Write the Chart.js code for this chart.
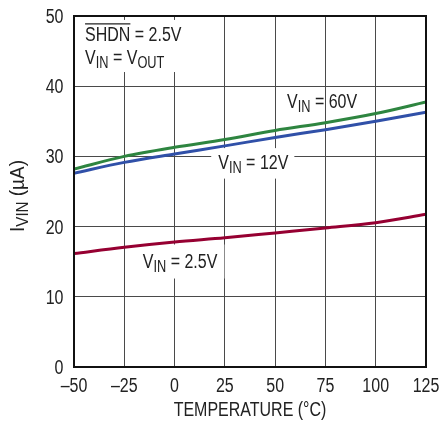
<!DOCTYPE html>
<html>
<head>
<meta charset="utf-8">
<script src="https://cdn.jsdelivr.net/npm/chart.js@4/dist/chart.umd.min.js"></script>
<style>
  html, body { margin: 0; padding: 0; background: #fff; }
  canvas { display: block; }
</style>
</head>
<body>
<canvas id="chart" width="441" height="421"></canvas>
<script>
// Supply current vs. temperature for three input voltages
const temperatures = [-50, -25, 0, 25, 50, 75, 100, 125];
const iVin60V  = [28.2, 30.0, 31.3, 32.4, 33.7, 34.8, 36.1, 37.75];
const iVin12V  = [27.6, 29.15, 30.35, 31.5, 32.7, 33.8, 35.0, 36.3];
const iVin2p5V = [16.15, 17.05, 17.8, 18.4, 19.1, 19.8, 20.55, 21.75];

const xTickLabels = ['–50', '–25', '0', '25', '50', '75', '100', '125'];
const yTickLabels = ['0', '10', '20', '30', '40', '50'];

const TEXT_FONT = '"Liberation Sans", Arial, sans-serif';
const TEXT_SIZE = 19.5;
const TEXT_SX = 0.82;      // condensed look
const TEXT_COLOR = '#222';

// Rich-text pieces: {t, sub, over}
function fontFor(p, size) {
  return (p.sub ? size * 0.8 : size) + 'px ' + TEXT_FONT;
}
function partsWidth(ctx, parts, size = TEXT_SIZE, sx = TEXT_SX) {
  let w = 0;
  for (const p of parts) { ctx.font = fontFor(p, size); w += ctx.measureText(p.t).width; }
  return w * sx;
}
function drawParts(ctx, parts, x, y, rot = 0, size = TEXT_SIZE, sx = TEXT_SX) {
  ctx.save();
  ctx.translate(x, y);
  if (rot) ctx.rotate(rot);
  ctx.scale(sx, 1);
  ctx.fillStyle = TEXT_COLOR;
  ctx.strokeStyle = TEXT_COLOR;
  ctx.textBaseline = 'alphabetic';
  ctx.textAlign = 'left';
  let cx = 0;
  for (const p of parts) {
    ctx.font = fontFor(p, size);
    const w = ctx.measureText(p.t).width;
    ctx.fillText(p.t, cx, p.sub ? 4 : 0);
    if (p.over) {
      ctx.lineWidth = 1.3;
      ctx.beginPath();
      ctx.moveTo(cx, -17);
      ctx.lineTo(cx + w, -17);
      ctx.stroke();
    }
    cx += w;
  }
  ctx.restore();
}

// Labels placed in data coordinates; each block gets a white backing box
const notes = [
  { x: -44.5, y: 46.45, lines: [
      [{ t: 'SHDN', over: true }, { t: ' = 2.5V' }],
      [{ t: 'V' }, { t: 'IN', sub: true }, { t: ' = V' }, { t: 'OUT', sub: true }]
    ], lineGap: 22.6, box: { l: 11, r: 14, t: 21, b: 8.5 } },
  { x: 55.9, y: 36.85, lines: [
      [{ t: 'V' }, { t: 'IN', sub: true }, { t: ' = 60V' }]
    ], lineGap: 0, box: null },
  { x: 21.7, y: 28.26, lines: [
      [{ t: 'V' }, { t: 'IN', sub: true }, { t: ' = 12V' }]
    ], lineGap: 0, box: { l: 7, r: 6, t: 20.5, b: 10 } },
  { x: -15.8, y: 14.1, lines: [
      [{ t: 'V' }, { t: 'IN', sub: true }, { t: ' = 2.5V' }]
    ], lineGap: 0, box: { l: 7, r: 7, t: 23.5, b: 10.5 } }
];

const annotationPlugin = {
  id: 'annotations',
  beforeDatasetsDraw(chart) {
    const { ctx, scales: { x, y } } = chart;
    ctx.save();
    ctx.fillStyle = '#fff';
    for (const n of notes) {
      if (!n.box) continue;
      const px = x.getPixelForValue(n.x);
      const py = y.getPixelForValue(n.y);
      let w = 0;
      for (const line of n.lines) w = Math.max(w, partsWidth(ctx, line));
      const last = py + n.lineGap * (n.lines.length - 1);
      ctx.fillRect(px - n.box.l, py - n.box.t, w + n.box.l + n.box.r, last - py + n.box.t + n.box.b);
    }
    ctx.restore();
  },
  afterDatasetsDraw(chart) {
    const { ctx, chartArea: a, scales: { x, y } } = chart;
    for (const n of notes) {
      const px = x.getPixelForValue(n.x);
      const py = y.getPixelForValue(n.y);
      n.lines.forEach((line, i) => drawParts(ctx, line, px, py + i * n.lineGap));
    }
    // frame
    ctx.save();
    ctx.strokeStyle = '#111';
    ctx.lineWidth = 2;
    ctx.strokeRect(a.left, a.top, a.right - a.left, a.bottom - a.top);
    ctx.restore();
    // condensed tick labels taken from the scales' own ticks
    x.ticks.forEach(t => {
      const parts = [{ t: String(t.label) }];
      const w = partsWidth(ctx, parts);
      drawParts(ctx, parts, x.getPixelForValue(t.value) - w / 2, a.bottom + 25);
    });
    y.ticks.forEach(t => {
      const parts = [{ t: String(t.label) }];
      const w = partsWidth(ctx, parts);
      drawParts(ctx, parts, a.left - 10.5 - w, y.getPixelForValue(t.value) + 7);
    });
    // axis titles
    const xt = [{ t: 'TEMPERATURE (°C)' }];
    const xw = partsWidth(ctx, xt);
    drawParts(ctx, xt, (a.left + a.right) / 2 - xw / 2, 416);
    const yt = [{ t: 'I' }, { t: 'VIN', sub: true }, { t: ' (µA)' }];
    const natural = partsWidth(ctx, yt, TEXT_SIZE, 1);
    const ysx = Math.min(1, 72 / natural);
    drawParts(ctx, yt, 24, 232, -Math.PI / 2, TEXT_SIZE, ysx);
  }
};

const pts = vals => temperatures.map((t, i) => ({ x: t, y: vals[i] }));
const lineStyle = color => ({
  borderColor: color, backgroundColor: color, borderWidth: 3,
  pointRadius: 0, fill: false, cubicInterpolationMode: 'monotone'
});

const tickFont = { family: TEXT_FONT, size: 19 };

new Chart(document.getElementById('chart'), {
  type: 'line',
  data: {
    datasets: [
      { label: 'VIN = 2.5V', data: pts(iVin2p5V), ...lineStyle('#960032') },
      { label: 'VIN = 12V', data: pts(iVin12V), ...lineStyle('#3050a8') },
      { label: 'VIN = 60V', data: pts(iVin60V), ...lineStyle('#2e8540') }
    ]
  },
  options: {
    responsive: false,
    animation: false,
    devicePixelRatio: 1,
    layout: { padding: { top: 16, right: 15, left: 0, bottom: 0 } },
    plugins: { legend: { display: false }, tooltip: { enabled: false } },
    scales: {
      x: {
        type: 'linear', min: -50, max: 125,
        afterFit(s) { s.height = 54; s.paddingLeft = 0; s.paddingRight = 0; },
        afterBuildTicks(s) { s.ticks = temperatures.map(v => ({ value: v })); },
        ticks: {
          callback: (v, i) => xTickLabels[i],
          font: tickFont, color: 'rgba(0,0,0,0)', padding: 7, maxRotation: 0, autoSkip: false
        },
        grid: { color: '#4a4a4a', lineWidth: 1, drawTicks: false },
        border: { display: false }
      },
      y: {
        min: 0, max: 50,
        afterFit(s) { s.width = 74; s.paddingTop = 0; s.paddingBottom = 0; },
        afterBuildTicks(s) { s.ticks = yTickLabels.map(l => ({ value: Number(l) })); },
        ticks: {
          callback: (v, i) => yTickLabels[i],
          font: tickFont, color: 'rgba(0,0,0,0)', padding: 11, autoSkip: false
        },
        grid: { color: '#4a4a4a', lineWidth: 1, drawTicks: false },
        border: { display: false }
      }
    }
  },
  plugins: [annotationPlugin]
});
</script>
</body>
</html>
